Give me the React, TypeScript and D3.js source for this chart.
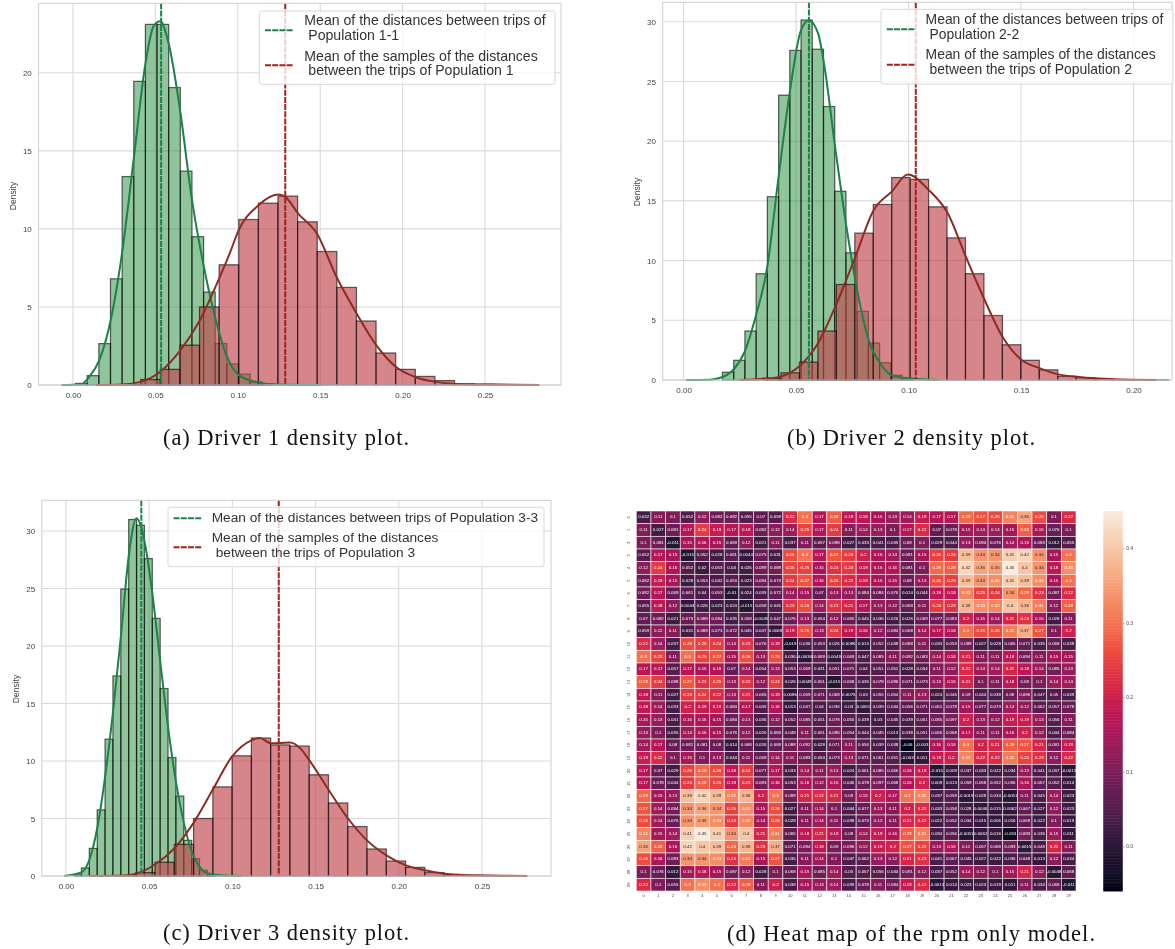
import * as d3 from 'd3';
import React, { useEffect, useRef } from 'react';

// driver 1
const d1GreenStart = 0.0016;
const d1GreenWidth = 0.00706;
const d1Green = [0.1, 0.6, 2.65, 6.8, 13.35, 19.45, 23.1, 23.1, 19.05, 13.7, 9.5, 5.95, 2.65, 1.35, 0.7, 0.2, 0.08];
const d1RedStart = 0.0292;
const d1RedWidth = 0.0119;
const d1Red = [0.03, 0.35, 1.0, 2.55, 5.0, 7.7, 10.6, 11.65, 12.1, 10.45, 8.55, 6.25, 4.1, 2.05, 1.0, 0.55, 0.28, 0.08, 0.05, 0.03, 0.02];
const d1GreenKde = [[-0.007, 0], [0.005, 0.05], [0.0097, 0.5], [0.016, 1.6], [0.023, 4.2], [0.03, 8.6], [0.037, 14.6], [0.044, 20.6], [0.049, 23], [0.053, 23.3], [0.058, 21.9], [0.065, 17.6], [0.072, 12], [0.079, 7.8], [0.0866, 4.2], [0.0935, 1.8], [0.1005, 0.65], [0.111, 0.2], [0.124, 0.04], [0.151, 0]];
const d1RedKde = [[0.014, 0], [0.03, 0.03], [0.041, 0.2], [0.053, 0.85], [0.065, 2.2], [0.077, 4.15], [0.089, 6.9], [0.095, 8.4], [0.1005, 9.9], [0.1124, 11.5], [0.1243, 12.2], [0.1288, 12.05], [0.1365, 11], [0.148, 9.7], [0.16, 6.9], [0.172, 4.6], [0.184, 2.55], [0.196, 1.15], [0.208, 0.5], [0.22, 0.2], [0.232, 0.07], [0.248, 0.03], [0.268, 0.02], [0.283, 0]];

// driver 2
const d2GreenStart = 0.01727;
const d2GreenWidth = 0.00499;
const d2Green = [0.65, 1.65, 4.1, 8.9, 15.35, 23.85, 27.6, 30.15, 27.7, 22.9, 15.8, 10.65, 5.75, 3.1, 1.45, 0.4, 0.1];
const d2RedStart = 0.0351;
const d2RedWidth = 0.0082;
const d2Red = [0.15, 0.6, 1.5, 4.1, 8.0, 12.3, 14.7, 16.95, 16.8, 14.5, 11.9, 8.9, 5.4, 2.95, 1.65, 0.85, 0.3, 0.2, 0.1, 0.03, 0.02, 0.02];
const d2GreenKde = [[0.001, 0], [0.0117, 0.03], [0.0173, 0.25], [0.0223, 0.9], [0.0272, 2.4], [0.032, 5.3], [0.0372, 9.5], [0.0422, 17], [0.0471, 24], [0.0522, 29.3], [0.0557, 30.1], [0.0598, 29], [0.0624, 26.5], [0.0675, 19.3], [0.0724, 12.8], [0.0774, 7.3], [0.0823, 3.3], [0.0874, 1.4], [0.0924, 0.4], [0.1014, 0.12], [0.1136, 0]];
const d2RedKde = [[0.0248, 0], [0.036, 0.1], [0.0433, 0.3], [0.0517, 1.2], [0.0598, 3.1], [0.068, 6.4], [0.0763, 10.3], [0.0844, 14.2], [0.0926, 15.8], [0.0997, 17.2], [0.109, 15.9], [0.1173, 14], [0.1255, 10.3], [0.1338, 6.7], [0.1418, 3.6], [0.1501, 1.7], [0.1582, 1.0], [0.1666, 0.47], [0.1747, 0.28], [0.1829, 0.14], [0.191, 0.06], [0.21, 0]];

// driver 3
const d3GreenStart = 0.0046;
const d3GreenWidth = 0.00473;
const d3Green = [0.1, 0.7, 2.4, 5.75, 11.9, 17.4, 24.95, 31.0, 30.5, 27.6, 22.4, 16.3, 10.3, 6.95, 3.1, 1.5, 0.5, 0.1];
const d3RedStart = 0.0304;
const d3RedWidth = 0.01158;
const d3Red = [0.03, 0.3, 1.2, 2.75, 5.0, 7.75, 10.45, 12.0, 11.4, 11.3, 8.8, 6.35, 4.3, 2.35, 1.3, 0.75, 0.3, 0.1, 0.06, 0.03, 0.02];
const d3GreenKde = [[-0.001, 0], [0.0092, 0.3], [0.0143, 1.5], [0.019, 4.3], [0.0238, 8.9], [0.0284, 14.4], [0.0332, 21.1], [0.0379, 28], [0.0423, 31.1], [0.0451, 30.4], [0.0475, 28.9], [0.0519, 24.6], [0.0568, 18.5], [0.0616, 12.7], [0.0662, 8.1], [0.0709, 4.6], [0.0757, 2.1], [0.0803, 0.8], [0.085, 0.25], [0.0924, 0.06], [0.1056, 0]];
const d3RedKde = [[0.0143, 0], [0.0352, 0.05], [0.042, 0.2], [0.0535, 1.0], [0.0651, 2.4], [0.0766, 4.6], [0.0882, 7.5], [0.0999, 10.4], [0.1114, 11.8], [0.1166, 12], [0.123, 11.55], [0.1345, 11.6], [0.1408, 11.1], [0.1461, 10.1], [0.1578, 7.5], [0.1695, 5], [0.1809, 3.1], [0.1926, 1.8], [0.204, 0.95], [0.2157, 0.5], [0.2273, 0.2], [0.2388, 0.08], [0.2619, 0.03], [0.2773, 0]];

const ticksA = [0, 0.05, 0.1, 0.15, 0.2, 0.25];
const ticksB = [0, 0.05, 0.1, 0.15, 0.2];

// heat map values, rows 0..29
const heat = [
  [0.032, 0.11, 0.1, 0.052, 0.12, 0.082, 0.082, 0.055, 0.07, 0.059, 0.22, 0.3, 0.17, 0.28, 0.18, 0.18, 0.15, 0.13, 0.14, 0.19, 0.17, 0.17, 0.29, 0.27, 0.26, 0.32, 0.36, 0.26, 0.1, 0.22],
  [0.11, 0.027, 0.081, 0.17, 0.24, 0.19, 0.17, 0.18, 0.082, 0.12, 0.14, 0.25, 0.17, 0.24, 0.11, 0.14, 0.13, 0.1, 0.17, 0.22, 0.07, 0.078, 0.15, 0.14, 0.14, 0.15, 0.28, 0.16, 0.076, 0.1],
  [0.1, 0.081, -0.011, 0.15, 0.16, 0.15, 0.069, 0.12, 0.021, 0.11, 0.037, 0.11, 0.057, 0.098, 0.027, 0.033, 0.041, 0.035, 0.08, 0.1, 0.029, 0.044, 0.13, 0.094, 0.076, 0.14, 0.16, 0.083, 0.012, 0.055],
  [0.052, 0.17, 0.15, -0.013, 0.052, 0.028, 0.061, 0.0044, 0.075, 0.031, 0.26, 0.3, 0.17, 0.27, 0.24, 0.2, 0.16, 0.14, 0.081, 0.15, 0.25, 0.24, 0.39, 0.34, 0.34, 0.41, 0.42, 0.34, 0.15, 0.3],
  [0.12, 0.24, 0.16, 0.052, 0.02, 0.053, 0.04, 0.026, 0.089, 0.089, 0.25, 0.25, 0.15, 0.23, 0.24, 0.19, 0.16, 0.16, 0.081, 0.1, 0.29, 0.28, 0.42, 0.36, 0.35, 0.45, 0.4, 0.34, 0.18, 0.33],
  [0.082, 0.19, 0.15, 0.028, 0.053, 0.042, 0.053, 0.023, 0.084, 0.073, 0.24, 0.27, 0.16, 0.25, 0.22, 0.19, 0.15, 0.15, 0.08, 0.13, 0.26, 0.25, 0.39, 0.34, 0.33, 0.41, 0.39, 0.33, 0.15, 0.3],
  [0.082, 0.17, 0.069, 0.061, 0.04, 0.053, -0.01, 0.024, 0.035, 0.072, 0.14, 0.15, 0.07, 0.13, 0.13, 0.084, 0.084, 0.076, 0.014, 0.044, 0.18, 0.18, 0.32, 0.25, 0.24, 0.34, 0.29, 0.23, 0.087, 0.22],
  [0.055, 0.18, 0.12, 0.0044, 0.026, 0.023, 0.024, -0.015, 0.058, 0.045, 0.23, 0.26, 0.14, 0.23, 0.21, 0.17, 0.13, 0.12, 0.068, 0.11, 0.24, 0.23, 0.38, 0.33, 0.32, 0.4, 0.38, 0.31, 0.12, 0.28],
  [0.07, 0.082, 0.021, 0.075, 0.089, 0.084, 0.035, 0.058, -0.0045, 0.047, 0.076, 0.13, 0.054, 0.12, 0.065, 0.045, 0.036, 0.026, 0.026, 0.069, 0.077, 0.083, 0.2, 0.15, 0.14, 0.21, 0.23, 0.15, 0.028, 0.11],
  [0.059, 0.12, 0.11, 0.031, 0.089, 0.073, 0.072, 0.045, 0.047, 0.0069, 0.19, 0.26, 0.13, 0.24, 0.18, 0.16, 0.12, 0.084, 0.068, 0.14, 0.17, 0.16, 0.3, 0.26, 0.26, 0.31, 0.37, 0.27, 0.1, 0.2],
  [0.22, 0.14, 0.037, 0.26, 0.25, 0.24, 0.14, 0.23, 0.076, 0.19, -0.019, 0.036, 0.053, 0.026, 0.0086, 0.013, 0.052, 0.048, 0.088, 0.11, 0.033, 0.053, 0.089, 0.027, 0.028, 0.065, 0.071, 0.035, 0.068, 0.038],
  [0.3, 0.25, 0.11, 0.3, 0.25, 0.27, 0.15, 0.26, 0.13, 0.26, 0.036, -0.00058, 0.069, 0.0049, 0.069, 0.047, 0.085, 0.11, 0.092, 0.083, 0.14, 0.16, 0.21, 0.11, 0.11, 0.18, 0.094, 0.11, 0.15, 0.15],
  [0.17, 0.17, 0.057, 0.17, 0.15, 0.16, 0.07, 0.14, 0.054, 0.13, 0.053, 0.069, 0.031, 0.051, 0.071, 0.04, 0.051, 0.051, 0.028, 0.054, 0.11, 0.12, 0.22, 0.14, 0.14, 0.21, 0.18, 0.14, 0.085, 0.13],
  [0.28, 0.24, 0.098, 0.27, 0.23, 0.25, 0.13, 0.23, 0.12, 0.24, 0.026, 0.0049, 0.051, -0.015, 0.068, 0.036, 0.078, 0.096, 0.071, 0.073, 0.13, 0.16, 0.21, 0.1, 0.11, 0.18, 0.09, 0.1, 0.14, 0.14],
  [0.18, 0.11, 0.027, 0.24, 0.24, 0.22, 0.13, 0.21, 0.065, 0.18, 0.0086, 0.069, 0.071, 0.068, 0.0075, 0.03, 0.055, 0.054, 0.11, 0.13, 0.024, 0.046, 0.09, 0.044, 0.038, 0.08, 0.096, 0.047, 0.05, 0.039],
  [0.18, 0.14, 0.033, 0.2, 0.19, 0.19, 0.084, 0.17, 0.045, 0.16, 0.013, 0.047, 0.04, 0.036, 0.03, 0.0061, 0.039, 0.044, 0.056, 0.071, 0.061, 0.078, 0.15, 0.077, 0.073, 0.14, 0.12, 0.062, 0.057, 0.078],
  [0.15, 0.13, 0.041, 0.16, 0.16, 0.15, 0.084, 0.13, 0.036, 0.12, 0.052, 0.085, 0.051, 0.078, 0.055, 0.039, 0.03, 0.045, 0.039, 0.061, 0.085, 0.097, 0.2, 0.13, 0.12, 0.19, 0.19, 0.13, 0.056, 0.11],
  [0.13, 0.1, 0.035, 0.14, 0.16, 0.15, 0.076, 0.12, 0.026, 0.084, 0.048, 0.11, 0.051, 0.096, 0.054, 0.044, 0.045, 0.013, 0.038, 0.051, 0.066, 0.068, 0.17, 0.11, 0.11, 0.16, 0.2, 0.12, 0.044, 0.084],
  [0.14, 0.17, 0.08, 0.081, 0.081, 0.08, 0.014, 0.068, 0.026, 0.068, 0.088, 0.092, 0.028, 0.071, 0.11, 0.056, 0.039, 0.038, -0.06, -0.003, 0.16, 0.16, 0.3, 0.2, 0.21, 0.28, 0.27, 0.21, 0.091, 0.19],
  [0.19, 0.22, 0.1, 0.15, 0.1, 0.13, 0.044, 0.11, 0.069, 0.14, 0.11, 0.083, 0.054, 0.073, 0.13, 0.071, 0.061, 0.051, -0.003, 0.011, 0.19, 0.2, 0.32, 0.22, 0.22, 0.31, 0.25, 0.23, 0.12, 0.22],
  [0.17, 0.07, 0.029, 0.25, 0.29, 0.26, 0.18, 0.24, 0.077, 0.17, 0.033, 0.14, 0.11, 0.13, 0.024, 0.061, 0.085, 0.066, 0.16, 0.19, -0.015, 0.009, 0.037, 0.033, 0.022, 0.034, 0.13, 0.041, 0.037, -0.0013],
  [0.17, 0.078, 0.044, 0.24, 0.28, 0.25, 0.18, 0.23, 0.083, 0.16, 0.053, 0.16, 0.12, 0.16, 0.046, 0.078, 0.097, 0.068, 0.16, 0.2, 0.009, 0.013, 0.059, 0.058, 0.052, 0.056, 0.16, 0.067, 0.052, 0.014],
  [0.29, 0.15, 0.13, 0.39, 0.42, 0.39, 0.32, 0.38, 0.2, 0.3, 0.089, 0.21, 0.22, 0.21, 0.09, 0.15, 0.2, 0.17, 0.3, 0.32, 0.037, 0.059, -0.0019, 0.028, 0.034, -0.0051, 0.11, 0.045, 0.14, 0.023],
  [0.27, 0.14, 0.094, 0.34, 0.36, 0.34, 0.25, 0.33, 0.15, 0.26, 0.027, 0.11, 0.14, 0.1, 0.044, 0.077, 0.13, 0.11, 0.2, 0.22, 0.033, 0.058, 0.028, 0.0046, 0.015, 0.0062, 0.067, 0.027, 0.12, 0.023],
  [0.26, 0.14, 0.076, 0.34, 0.35, 0.33, 0.24, 0.32, 0.14, 0.26, 0.028, 0.11, 0.14, 0.11, 0.038, 0.073, 0.12, 0.11, 0.21, 0.22, 0.022, 0.052, 0.034, 0.015, 0.006, 0.016, 0.068, 0.022, 0.1, 0.019],
  [0.32, 0.15, 0.14, 0.41, 0.45, 0.41, 0.34, 0.4, 0.21, 0.31, 0.065, 0.18, 0.21, 0.18, 0.08, 0.14, 0.19, 0.16, 0.28, 0.31, 0.034, 0.056, -0.0051, 0.0062, 0.016, -0.053, 0.093, 0.036, 0.15, 0.011],
  [0.36, 0.28, 0.16, 0.42, 0.4, 0.39, 0.29, 0.38, 0.23, 0.37, 0.071, 0.094, 0.18, 0.09, 0.096, 0.12, 0.19, 0.2, 0.27, 0.25, 0.13, 0.16, 0.11, 0.067, 0.068, 0.093, 0.0015, 0.048, 0.21, 0.11],
  [0.26, 0.16, 0.083, 0.34, 0.34, 0.33, 0.23, 0.31, 0.15, 0.27, 0.035, 0.11, 0.14, 0.1, 0.047, 0.062, 0.13, 0.12, 0.21, 0.23, 0.041, 0.067, 0.045, 0.027, 0.022, 0.036, 0.048, 0.013, 0.12, 0.034],
  [0.1, 0.076, 0.012, 0.15, 0.18, 0.15, 0.087, 0.12, 0.028, 0.1, 0.068, 0.15, 0.085, 0.14, 0.05, 0.057, 0.056, 0.044, 0.091, 0.12, 0.037, 0.052, 0.14, 0.12, 0.1, 0.15, 0.21, 0.12, -0.0048, 0.068],
  [0.22, 0.1, 0.055, 0.3, 0.33, 0.3, 0.22, 0.28, 0.11, 0.2, 0.038, 0.15, 0.13, 0.14, 0.039, 0.078, 0.11, 0.084, 0.19, 0.22, -0.0013, 0.014, 0.023, 0.023, 0.019, 0.011, 0.11, 0.034, 0.068, -0.011],
];
const heatTicks = [0, 0.1, 0.2, 0.3, 0.4];
const rocket = ['#03051a', '#221331', '#451c47', '#6a1f56', '#921c5b', '#b91657', '#d92847', '#ed503e', '#f47d57', '#f6a47b', '#f7c9aa', '#faebdd'];

const GREEN_LINE = '#1a8249';
const RED_LINE = '#8f2c22';
const RED_MEAN = '#a5201c';
const SANS = '"Liberation Sans", Arial, sans-serif';

const panels = [
  {
    left: 38.5, right: 561, top: 3.3, bottom: 385,
    xDomain: [-0.0209, 0.2961], yMax: 24.45, xTicks: ticksA, yTicks: [0, 5, 10, 15, 20],
    green: d1Green, greenStart: d1GreenStart, greenWidth: d1GreenWidth,
    red: d1Red, redStart: d1RedStart, redWidth: d1RedWidth,
    greenKde: d1GreenKde, redKde: d1RedKde, greenMean: 0.0535, redMean: 0.1288,
    ylabelX: 13.7, ylabelY: 196,
    legend: {
      size: 14.1, box: [259.3, 11, 295.7, 73.3], lineX: [265, 293], lineY: [30.3, 65.3], textX: 304.3,
      rows: [[21.7, 'Mean of the distances between trips of', 0], [36.7, 'Population 1-1', 4], [57.3, 'Mean of the samples of the distances', 0], [71.7, 'between the trips of Population 1', 4]],
    },
  },
  {
    left: 662.7, right: 1172, top: 2.3, bottom: 380,
    xDomain: [-0.0093, 0.2171], yMax: 31.63, xTicks: ticksB, yTicks: [0, 5, 10, 15, 20, 25, 30],
    green: d2Green, greenStart: d2GreenStart, greenWidth: d2GreenWidth,
    red: d2Red, redStart: d2RedStart, redWidth: d2RedWidth,
    greenKde: d2GreenKde, redKde: d2RedKde, greenMean: 0.0557, redMean: 0.1032,
    ylabelX: 637.8, ylabelY: 192,
    legend: {
      size: 13.9, box: [881, 9.3, 292, 74.7], lineX: [886.8, 915], lineY: [29.3, 64.7], textX: 925.6,
      rows: [[20, 'Mean of the distances between trips of', 0], [35.3, 'Population 2-2', 4], [55.3, 'Mean of the samples of the distances', 0], [70.7, 'between the trips of Population 2', 4]],
    },
  },
  {
    left: 41.8, right: 551, top: 500.3, bottom: 876,
    xDomain: [-0.0145, 0.2915], yMax: 32.67, xTicks: ticksA, yTicks: [0, 5, 10, 15, 20, 25, 30],
    green: d3Green, greenStart: d3GreenStart, greenWidth: d3GreenWidth,
    red: d3Red, redStart: d3RedStart, redWidth: d3RedWidth,
    greenKde: d3GreenKde, redKde: d3RedKde, greenMean: 0.0453, redMean: 0.1279,
    ylabelX: 16.5, ylabelY: 689,
    legend: {
      size: 13.7, box: [168, 507.3, 376, 59.4], lineX: [173.6, 201.5], lineY: [518.3, 547.3], textX: 211.7,
      rows: [[518.3, 'Mean of the distances between trips of Population 3-3', 0], [538.3, 'Mean of the samples of the distances', 0], [553.3, 'between the trips of Population 3', 4]],
    },
  },
];

const captions = [
  ['(a) Driver 1 density plot.', 286, 445, 246],
  ['(b) Driver 2 density plot.', 911, 444.5, 248],
  ['(c) Driver 3 density plot.', 286, 940, 246],
  ['(d) Heat map of the rpm only model.', 911, 941, 368],
];

function drawDensity(root, p) {
  const x = d3.scaleLinear().domain(p.xDomain).range([p.left, p.right]);
  const y = d3.scaleLinear().domain([0, p.yMax]).range([p.bottom, p.top]);
  const g = root.append('g').attr('filter', 'url(#soft)');

  // grid
  g.append('g').selectAll('line').data(p.xTicks).join('line')
    .attr('x1', (d) => x(d)).attr('x2', (d) => x(d))
    .attr('y1', p.top).attr('y2', p.bottom)
    .attr('stroke', '#dadada').attr('stroke-width', 1.1);
  g.append('g').selectAll('line').data(p.yTicks).join('line')
    .attr('x1', p.left).attr('x2', p.right)
    .attr('y1', (d) => y(d)).attr('y2', (d) => y(d))
    .attr('stroke', '#dadada').attr('stroke-width', 1.1);

  const bars = (values, start, width, fill, opacity) => {
    g.append('g').selectAll('rect').data(values).join('rect')
      .attr('x', (d, i) => x(start + i * width))
      .attr('width', x(start + width) - x(start))
      .attr('y', (d) => y(d))
      .attr('height', (d) => y(0) - y(d))
      .attr('fill', fill).attr('fill-opacity', opacity)
      .attr('stroke', '#000').attr('stroke-opacity', 0.6).attr('stroke-width', 1.25);
  };
  bars(p.green, p.greenStart, p.greenWidth, '#228b3a', 0.5);
  bars(p.red, p.redStart, p.redWidth, '#bf4248', 0.64);

  const kde = d3.line().x((d) => x(d[0])).y((d) => y(d[1])).curve(d3.curveMonotoneX);
  g.append('path').attr('d', kde(p.greenKde)).attr('fill', 'none').attr('stroke', GREEN_LINE).attr('stroke-width', 2);
  g.append('path').attr('d', kde(p.redKde)).attr('fill', 'none').attr('stroke', RED_LINE).attr('stroke-width', 2);

  g.append('line').attr('x1', x(p.greenMean)).attr('x2', x(p.greenMean))
    .attr('y1', p.top).attr('y2', p.bottom)
    .attr('stroke', GREEN_LINE).attr('stroke-width', 2).attr('stroke-dasharray', '6,1.2');
  g.append('line').attr('x1', x(p.redMean)).attr('x2', x(p.redMean))
    .attr('y1', p.top).attr('y2', p.bottom)
    .attr('stroke', RED_MEAN).attr('stroke-width', 2).attr('stroke-dasharray', '6,1.2');

  // frame
  g.append('rect').attr('x', p.left).attr('y', p.top)
    .attr('width', p.right - p.left).attr('height', p.bottom - p.top)
    .attr('fill', 'none').attr('stroke', '#d2d2d2').attr('stroke-width', 1.1);

  // axes
  const xAxis = d3.axisBottom(x).tickValues(p.xTicks).tickFormat(d3.format('.2f')).tickSize(0).tickPadding(7.5);
  const yAxis = d3.axisLeft(y).tickValues(p.yTicks).tickFormat(d3.format('d')).tickSize(0).tickPadding(6.7);
  [g.append('g').attr('transform', `translate(0,${p.bottom})`).call(xAxis),
    g.append('g').attr('transform', `translate(${p.left},0)`).call(yAxis)].forEach((a) => {
    a.select('.domain').remove();
    a.selectAll('text').attr('font-family', SANS).attr('font-size', 8).attr('fill', '#444');
  });

  g.append('text')
    .attr('transform', `translate(${p.ylabelX},${p.ylabelY}) rotate(-90)`)
    .attr('text-anchor', 'middle').attr('dominant-baseline', 'middle')
    .attr('font-family', SANS).attr('font-size', 8.5).attr('fill', '#444')
    .text('Density');

  // legend
  const lg = p.legend;
  g.append('rect').attr('x', lg.box[0]).attr('y', lg.box[1]).attr('width', lg.box[2]).attr('height', lg.box[3])
    .attr('rx', 2.5).attr('fill', '#fff').attr('fill-opacity', 0.8).attr('stroke', '#d8d8d8').attr('stroke-width', 1);
  [GREEN_LINE, RED_MEAN].forEach((c, i) => {
    g.append('line').attr('x1', lg.lineX[0]).attr('x2', lg.lineX[1]).attr('y1', lg.lineY[i]).attr('y2', lg.lineY[i])
      .attr('stroke', c).attr('stroke-width', 2).attr('stroke-dasharray', '6,1.2');
  });
  g.append('g').selectAll('text').data(lg.rows).join('text')
    .attr('x', (d) => lg.textX + d[2]).attr('y', (d) => d[0])
    .attr('dominant-baseline', 'middle')
    .attr('font-family', SANS).attr('font-size', lg.size).attr('fill', '#333')
    .text((d) => d[1]);
}

function drawHeat(root) {
  const g = root.append('g').attr('filter', 'url(#soft)');
  const cols = d3.range(30);
  const x = d3.scaleBand().domain(cols).range([636.3, 1076]);
  const y = d3.scaleBand().domain(cols).range([511, 891]);
  const norm = d3.scaleLinear().domain([-0.06, 0.45]).range([0, 1]).clamp(true);
  const ramp = d3.piecewise(d3.interpolateRgb, rocket);
  const color = (v) => ramp(norm(v));
  const lum = (c) => {
    const { r, g: gr, b } = d3.rgb(c);
    const f = (u) => { const s = u / 255; return s <= 0.03928 ? s / 12.92 : Math.pow((s + 0.055) / 1.055, 2.4); };
    return 0.2126 * f(r) + 0.7152 * f(gr) + 0.0722 * f(b);
  };

  const rows = g.append('g').selectAll('g').data(heat).join('g')
    .attr('transform', (d, i) => `translate(0,${y(i)})`);
  rows.selectAll('rect').data((d) => d).join('rect')
    .attr('x', (d, i) => x(i)).attr('width', x.bandwidth()).attr('height', y.bandwidth())
    .attr('fill', (d) => color(d))
    .attr('stroke', '#fff').attr('stroke-width', 0.7).attr('stroke-opacity', 0.8);
  rows.selectAll('text').data((d) => d).join('text')
    .attr('x', (d, i) => x(i) + x.bandwidth() / 2).attr('y', y.bandwidth() / 2)
    .attr('text-anchor', 'middle').attr('dominant-baseline', 'middle')
    .attr('font-family', SANS).attr('font-size', 4.4)
    .attr('fill', (d) => (lum(color(d)) < 0.408 ? '#fff' : '#262626'))
    .text((d) => String(d));

  g.append('g').selectAll('text').data(cols).join('text')
    .attr('x', (d) => x(d) + x.bandwidth() / 2).attr('y', 896.3)
    .attr('text-anchor', 'middle').attr('dominant-baseline', 'middle')
    .attr('font-family', SANS).attr('font-size', 4).attr('fill', '#444')
    .text((d) => d);
  g.append('g').selectAll('text').data(cols).join('text')
    .attr('transform', (d) => `translate(629.3,${y(d) + y.bandwidth() / 2}) rotate(-90)`)
    .attr('text-anchor', 'middle').attr('dominant-baseline', 'middle')
    .attr('font-family', SANS).attr('font-size', 4).attr('fill', '#444')
    .text((d) => d);

  // colour bar
  const cb = d3.scaleLinear().domain([-0.06, 0.45]).range([891, 511]);
  const steps = d3.range(0, 256);
  g.append('g').selectAll('rect').data(steps).join('rect')
    .attr('x', 1103.3).attr('width', 19.4)
    .attr('y', (d) => cb(-0.06 + ((d + 1) / 256) * 0.51))
    .attr('height', 380 / 256 + 0.5)
    .attr('fill', (d) => ramp(d / 255));
  const axis = g.append('g').attr('transform', 'translate(1122.7,0)')
    .call(d3.axisRight(cb).tickValues(heatTicks).tickFormat(d3.format('.1f')).tickSize(2).tickPadding(1.5));
  axis.select('.domain').remove();
  axis.selectAll('line').attr('stroke', '#555').attr('stroke-width', 0.5);
  axis.selectAll('text').attr('font-family', SANS).attr('font-size', 5).attr('fill', '#444');
}

export default function App() {
  const svgRef = useRef(null);

  useEffect(() => {
    const svg = d3.select(svgRef.current);
    svg.selectAll('*').remove();
    svg.append('defs').append('filter').attr('id', 'soft')
      .attr('x', '-5%').attr('y', '-5%').attr('width', '110%').attr('height', '110%')
      .append('feGaussianBlur').attr('stdDeviation', 0.4);
    panels.forEach((p) => drawDensity(svg, p));
    drawHeat(svg);
    svg.append('g').selectAll('text').data(captions).join('text')
      .attr('x', (d) => d[1]).attr('y', (d) => d[2])
      .attr('text-anchor', 'middle')
      .attr('font-family', '"Liberation Serif", "Times New Roman", serif')
      .attr('font-size', 22.5).attr('fill', '#111')
      .attr('textLength', (d) => d[3]).attr('lengthAdjust', 'spacing')
      .text((d) => d[0]);
  }, []);

  return (
    <svg
      ref={svgRef}
      width={1175}
      height={949}
      style={{ position: 'absolute', left: 0, top: 0, display: 'block' }}
    />
  );
}
